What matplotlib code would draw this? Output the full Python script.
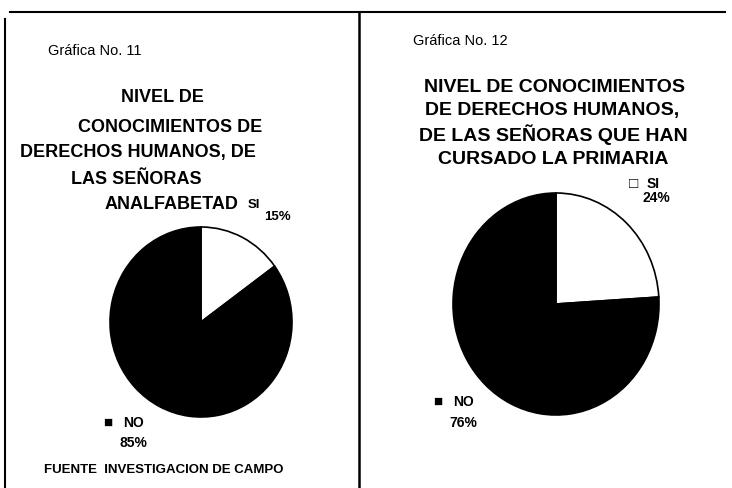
import matplotlib
matplotlib.use("Agg")
import matplotlib.pyplot as plt
from matplotlib.lines import Line2D

plt.rcParams['font.family'] = ['Liberation Sans', 'DejaVu Sans']

# datos
etiquetas = ['SI', 'NO']
analfabetas = [15, 85]
primaria = [24, 76]
colores = ['white', 'black']

W, H = 732, 489
fig = plt.figure(figsize=(W / 100, H / 100), dpi=100)


def px(x, y):
    return x / W, 1 - y / H


def texto(x, y, s, size=10.5, weight='bold', ha='center'):
    fx, fy = px(x, y)
    fig.text(fx, fy, s, fontsize=size, fontweight=weight, ha=ha, va='center')


def pastel(cx, cy, rx, ry, valores):
    x0, y1 = px(cx - rx, cy + ry)
    ax = fig.add_axes([x0, y1, 2 * rx / W, 2 * ry / H])
    ax.pie(valores, colors=colores, startangle=90, counterclock=False,
           wedgeprops=dict(edgecolor='black', linewidth=1.2))
    ax.set_xlim(-1.0, 1.0)
    ax.set_ylim(-1.0, 1.0)
    ax.set_aspect('auto')
    ax.axis('off')
    return ax


# marcos del escaneo
marco = [
    ([10, 725], [13, 13], 1.5),
    ([5, 5], [20, 489], 1.5),
    ([359, 359], [13, 489], 1.8),
]
for xs, ys, lw in marco:
    fig.add_artist(Line2D([x / W for x in xs], [1 - y / H for y in ys],
                          color='black', linewidth=lw))

# panel izquierdo
texto(95, 51, 'Gráfica No. 11', size=10.5, weight='normal')
texto(162, 98, 'NIVEL DE', size=13)
texto(170, 127, 'CONOCIMIENTOS DE', size=13)
texto(138, 153, 'DERECHOS HUMANOS, DE', size=13)
texto(136, 179, 'LAS SEÑORAS', size=13)
texto(171, 205, 'ANALFABETAD', size=13)
texto(254, 205, etiquetas[0], size=9.5)
texto(277, 217, f'{analfabetas[0]}%', size=9.5)
pastel(201, 323, 91, 95, analfabetas)
texto(108, 423, '■', size=11, weight='normal')
texto(134, 423, etiquetas[1], size=10)
texto(133, 443, f'{analfabetas[1]}%', size=10)
texto(164, 470, 'FUENTE  INVESTIGACION DE CAMPO', size=9.5)

# panel derecho
texto(460, 41, 'Gráfica No. 12', size=10.5, weight='normal')
texto(555, 87, 'NIVEL DE CONOCIMIENTOS', size=14)
texto(552, 111, 'DE DERECHOS HUMANOS,', size=14)
texto(553, 135, 'DE LAS SEÑORAS QUE HAN', size=14)
texto(553, 159, 'CURSADO LA PRIMARIA', size=14)
texto(634, 184, '□', size=11)
texto(653, 184, etiquetas[0], size=10)
texto(656, 198, f'{primaria[0]}%', size=10)
pastel(556, 305, 103, 111, primaria)
texto(438, 402, '■', size=11, weight='normal')
texto(464, 402, etiquetas[1], size=10)
texto(463, 423, f'{primaria[1]}%', size=10)

fig.savefig('out.png', dpi=100)
